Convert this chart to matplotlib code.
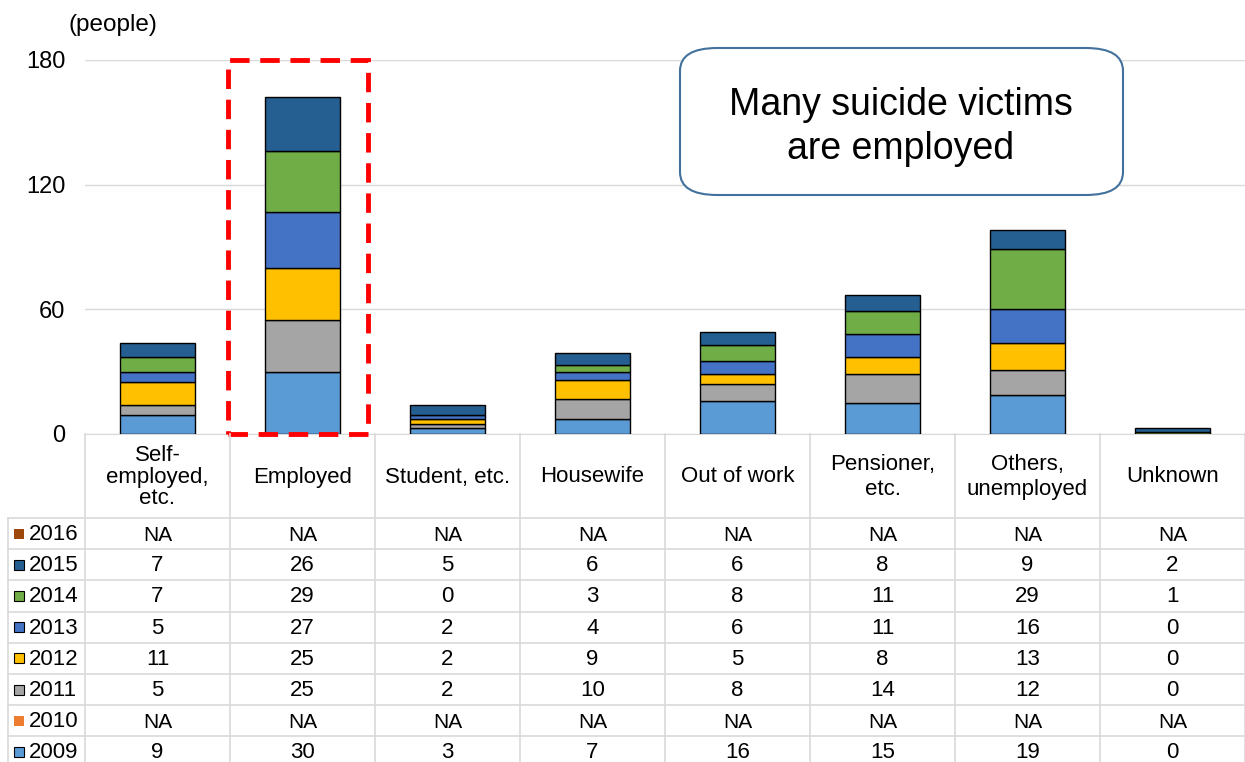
import numpy as np
import matplotlib
matplotlib.use("Agg")
import matplotlib.pyplot as plt
from matplotlib.patches import Rectangle, FancyBboxPatch
from matplotlib.lines import Line2D

plt.rcParams["font.family"] = ["Liberation Sans", "DejaVu Sans"]

# 職業別の自殺者数（年別）
categories = ["Self-\nemployed,\netc.", "Employed", "Student, etc.", "Housewife",
              "Out of work", "Pensioner,\netc.", "Others,\nunemployed", "Unknown"]
years = ["2016", "2015", "2014", "2013", "2012", "2011", "2010", "2009"]
NA = np.nan
v2016 = [NA, NA, NA, NA, NA, NA, NA, NA]
v2015 = [7, 26, 5, 6, 6, 8, 9, 2]
v2014 = [7, 29, 0, 3, 8, 11, 29, 1]
v2013 = [5, 27, 2, 4, 6, 11, 16, 0]
v2012 = [11, 25, 2, 9, 5, 8, 13, 0]
v2011 = [5, 25, 2, 10, 8, 14, 12, 0]
v2010 = [NA, NA, NA, NA, NA, NA, NA, NA]
v2009 = [9, 30, 3, 7, 16, 15, 19, 0]
colors = ["#9E480E", "#255E91", "#70AD47", "#4472C4",
          "#FFC000", "#A5A5A5", "#ED7D31", "#5B9BD5"]
series = [v2016, v2015, v2014, v2013, v2012, v2011, v2010, v2009]

W, H = 1245, 762
fig = plt.figure(figsize=(W / 100, H / 100), dpi=100)
ax_l, ax_r, ax_top, ax_bot = 85, 1245, 60, 434
ax = fig.add_axes([ax_l / W, 1 - ax_bot / H, (ax_r - ax_l) / W, (ax_bot - ax_top) / H])
n = len(categories)
ax.set_xlim(-0.5, n - 0.5)
ax.set_ylim(0, 180)
ax.set_yticks([0, 60, 120, 180])
ax.tick_params(axis="y", length=0, labelsize=17, pad=14)
ax.set_xticks([])
for s in ("top", "right", "left"):
    ax.spines[s].set_visible(False)
ax.spines["bottom"].set_color("#D9D9D9")
ax.grid(axis="y", color="#D9D9D9", linewidth=1)
ax.set_axisbelow(True)

# 積み上げ（下から 2009 → 2016）
x = np.arange(n)
bottom = np.zeros(n)
for vals, col in zip(series[::-1], colors[::-1]):
    v = np.array(vals, dtype=float)
    h = np.where(np.isnan(v) | (v == 0), np.nan, v)
    ax.bar(x, h, 0.52, bottom=bottom, color=col, edgecolor="black", linewidth=1, zorder=3)
    bottom += np.nan_to_num(v)

# 強調枠
ax.add_patch(Rectangle((0.485, 0), 0.965, 180, fill=False, edgecolor="#FF0000",
                       linewidth=3.5, linestyle=(0, (4, 2.2)), clip_on=False, zorder=4))

fig.text(68 / W, 1 - 25 / H, "(people)", fontsize=17.5, va="center", ha="left")

# 吹き出し
box = FancyBboxPatch((680 / W, 1 - 195 / H), 443 / W, 147 / H,
                     boxstyle="round,pad=0,rounding_size=0.03", transform=fig.transFigure,
                     facecolor="white", edgecolor="#41719C", linewidth=1.5, zorder=5)
fig.patches.append(box)
fig.text(901 / W, 1 - 127 / H, "Many suicide victims\nare employed", fontsize=27,
         ha="center", va="center", linespacing=1.3, zorder=6)

# データテーブル
grid_c = "#D9D9D9"
col_w = (ax_r - ax_l) / n
head_bot = 518
row_h = 31.2


def fx(px):
    return px / W


def fy(py):
    return 1 - py / H


def hline(x0, x1, y):
    fig.lines.append(Line2D([fx(x0), fx(x1)], [fy(y), fy(y)], color=grid_c,
                            linewidth=1.2, transform=fig.transFigure))


def vline(xp, y0, y1):
    fig.lines.append(Line2D([fx(xp), fx(xp)], [fy(y0), fy(y1)], color=grid_c,
                            linewidth=1.2, transform=fig.transFigure))


for i in range(n + 1):
    vline(ax_l + i * col_w, ax_bot, H)
vline(8, head_bot, H)
hline(ax_l, ax_r, head_bot)
for r in range(len(years)):
    hline(8, ax_r, head_bot + (r + 1) * row_h)
hline(8, ax_l, head_bot)

for i, cat in enumerate(categories):
    cx = ax_l + (i + 0.5) * col_w
    nlines = cat.count("\n") + 1
    fig.text(fx(cx), fy(477), cat, fontsize=16, ha="center", va="center",
             linespacing=1.3 if nlines == 2 else 1.05)

for r, (yr, vals, col) in enumerate(zip(years, series, colors)):
    cy = head_bot + (r + 0.5) * row_h
    nodata = all(np.isnan(vals))
    sq = 10
    fig.patches.append(Rectangle((fx(14), fy(cy + sq / 2)), sq / W, sq / H,
                                 transform=fig.transFigure, facecolor=col,
                                 edgecolor="none" if nodata else "black", linewidth=0.8))
    fig.text(fx(29), fy(cy + 1), yr, fontsize=16, ha="left", va="center")
    for i, v in enumerate(vals):
        cx = ax_l + (i + 0.5) * col_w
        if np.isnan(v):
            fig.text(fx(cx), fy(cy + 2), "NA", fontsize=15, ha="center", va="center",
                     bbox=dict(facecolor="white", edgecolor="none", pad=2))
        else:
            fig.text(fx(cx), fy(cy + 1), f"{int(v)}", fontsize=16, ha="center", va="center")

fig.savefig("out.png", dpi=100, facecolor="white")
